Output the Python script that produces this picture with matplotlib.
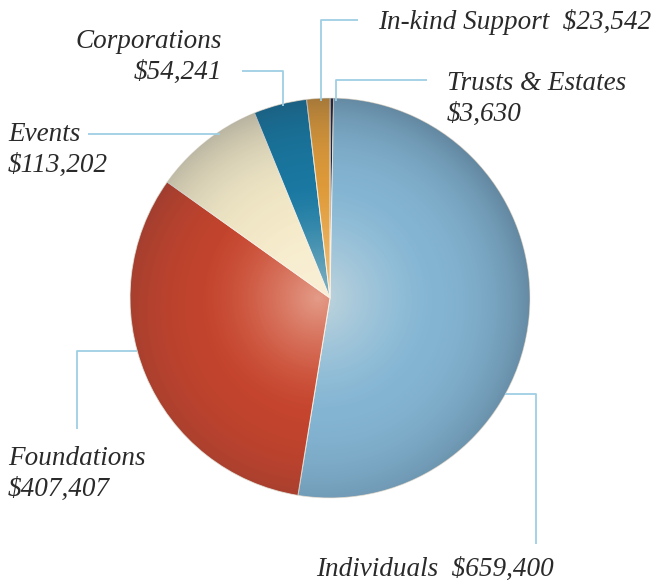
import matplotlib.pyplot as plt
import numpy as np
from matplotlib.patches import Circle

# data, clockwise from 12 o'clock
labels = ["Trusts & Estates", "Individuals", "Foundations", "Events", "Corporations", "In-kind Support"]
amounts = [3630, 659400, 407407, 113202, 54241, 23542]
slice_colors = ["#26263f", "#86b8d6", "#c9452d", "#f5ebc9", "#197aa4", "#e39d3a"]

W, H = 658, 587
CX, CY, R = 330, H - 298, 200
LINE = "#9fcfe4"
TEXT = "#2a2a2a"

fig = plt.figure(figsize=(W / 100, H / 100), dpi=100, facecolor="white")
ax = fig.add_axes([0, 0, 1, 1])

wedges, _ = ax.pie(
    amounts,
    colors=slice_colors,
    startangle=90,
    counterclock=False,
    center=(CX, CY),
    radius=R,
    wedgeprops={"edgecolor": "#f6f1e6", "linewidth": 0.7},
)

# lighting: soft highlight near the middle, darker towards the rim
xs = np.linspace(CX - R, CX + R, 400)
ys = np.linspace(CY - R, CY + R, 400)
gx, gy = np.meshgrid(xs, ys)
hx, hy = CX - 12, CY
d_hi = np.hypot(gx - hx, gy - hy) / R
r = np.hypot(gx - CX, gy - CY) / R
# rim gets a bit darker on the upper right
side = 0.75 + 0.25 * ((gx - CX) + (gy - CY)) / (1.42 * R)
white = np.zeros(gx.shape + (4,))
white[..., :3] = [1.0, 0.96, 0.9]
white[..., 3] = 0.5 * np.clip(1 - d_hi / 0.6, 0, 1) ** 1.5
dark = np.zeros(gx.shape + (4,))
dark[..., :3] = [0.12, 0.16, 0.22]
dark[..., 3] = 0.34 * np.clip(r, 0, 1) ** 4 * side
clip = Circle((CX, CY), R, transform=ax.transData)
for layer in (white, dark):
    im = ax.imshow(layer, extent=(CX - R, CX + R, CY - R, CY + R), origin="lower",
                   interpolation="bilinear", zorder=3)
    im.set_clip_path(clip)

ax.set_xlim(0, W)
ax.set_ylim(0, H)
ax.set_aspect("equal")
ax.axis("off")


def y(v):
    return H - v


def leader(px, py):
    ax.plot(px, [y(v) for v in py], color=LINE, lw=1.3, solid_capstyle="butt", zorder=4)


font = dict(family="Liberation Serif", style="italic", fontsize=19.5, color=TEXT)
two_line = dict(linespacing=1.35, **font)

# In-kind Support
leader([321, 321, 358], [101, 20, 20])
ax.text(378, y(22), f"{labels[5]}  ${amounts[5]:,}", va="center", ha="left", **font)

# Trusts & Estates
leader([336, 336, 427], [101, 80, 80])
ax.text(447, y(99), f"{labels[0]}\n${amounts[0]:,}", va="center", ha="left", **two_line)

# Corporations
leader([283, 283, 242], [106, 71, 71])
ax.text(222, y(57), f"{labels[4]}\n${amounts[4]:,}", va="center", ha="right",
        multialignment="right", **two_line)

# Events
leader([88, 220], [134, 134])
ax.text(8, y(150), f"{labels[3]}\n${amounts[3]:,}", va="center", ha="left", **two_line)

# Foundations
leader([77, 77, 137], [429, 351, 351])
ax.text(8, y(474), f"{labels[2]}\n${amounts[2]:,}", va="center", ha="left", **two_line)

# Individuals
leader([505, 536, 536], [394, 394, 544])
ax.text(316, y(569), f"{labels[1]}  ${amounts[1]:,}", va="center", ha="left", **font)

fig.savefig("out.png", dpi=100, facecolor="white")
